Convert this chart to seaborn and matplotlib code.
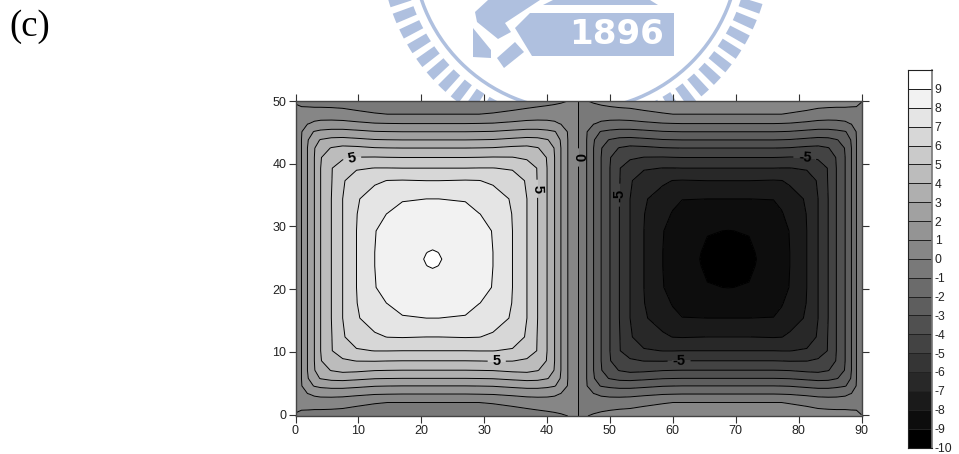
import numpy as np
import pandas as pd
import matplotlib
matplotlib.use("Agg")
import matplotlib.pyplot as plt
from matplotlib.colors import ListedColormap
from matplotlib.patches import Polygon, Wedge
import seaborn as sns

# contour crossings (outer edge -> cell centre)
left_x_flank_a = [0, 0.95, 1.9, 3, 4, 5.7, 7.5, 9.7, 12.6, 14.6, 17, 20.8, 21.8]
left_x_flank_b = [44.95, 43.3, 42.2, 41.2, 40, 38.5, 36.8, 34.5, 31.4, 29.2, 27, 22.8]
right_x_flank_a = [45.05, 46.3, 47.4, 48.6, 50, 51.5, 53.2, 55.4, 58.4, 60, 61.5, 65.5, 68.8]
right_x_flank_b = [90, 89.2, 88.4, 87.4, 86, 84.7, 83.1, 81.3, 78.6, 77.3, 76, 72.1]
y_bottom = [-0.2, 1.95, 3.3, 4.6, 5.8, 7.1, 8.6, 10.2, 12.4, 15.4, 17.8, 20.3, 23.7, 24.8]
y_top = [50, 47.9, 46.4, 45.1, 43.8, 42.5, 41, 39.3, 37.3, 34.4, 32, 29.3, 25.9]

# field values at those crossings, one corner of each cell
left_corner = [
    [-0.03, -0.3, -0.4, -0.5, -0.5, -0.5, -0.5, -0.5, -0.5, -0.5, -0.5, -0.5, -0.5],
    [0.1, 0.4, 0.5, 0.55, 0.55, 0.5, 0.4, 0.2, 0.05, 0, 0, 0, 0],
    [0.1, 0.8, 0.95, 1.15, 1.25, 1.3, 1.3, 1.2, 1.05, 1.02, 1, 1, 1],
    [0.1, 0.95, 1.7, 2.05, 2.2, 2.3, 2.3, 2.2, 2.05, 2.02, 2, 2, 2],
    [0.1, 1, 1.9, 2.75, 3.05, 3.25, 3.3, 3.2, 3.05, 3.02, 3, 3, 3],
    [0.1, 1, 2, 2.95, 3.6, 4.05, 4.25, 4.2, 4.05, 4.02, 4, 4, 4],
    [0.1, 1, 2, 3, 3.95, 4.6, 4.85, 5.03, 5.05, 5.02, 5, 5, 5],
    [0.1, 1, 2, 3, 4, 4.95, 5.55, 5.9, 6.02, 6.02, 6, 6, 6],
    [0.1, 1, 2, 3, 4, 4.95, 5.9, 6.5, 6.85, 7.02, 7.05, 7, 7],
    [0.1, 1, 2, 3, 4, 5, 6, 6.9, 7.45, 7.55, 7.93, 8, 8],
    [0.1, 1, 2, 3, 4, 5, 6, 6.97, 7.75, 8.02, 8.3, 8.35, 8.35],
    [0.1, 1, 2, 3, 4, 5, 6, 7, 7.97, 8.25, 8.5, 8.6, 8.6],
    [0.1, 1, 2, 3, 4, 5, 6, 7, 8, 8.3, 8.6, 8.99, 9.05],
    [0.1, 1, 2, 3, 4, 5, 6, 7, 8, 8.3, 8.6, 9.05, 9.3],
]
right_corner = [
    [-0.1, -0.02, 0.1, 0.25, 0.4, 0.5, 0.5, 0.5, 0.5, 0.5, 0.5, 0.5, 0.5],
    [-0.1, -0.4, -0.5, -0.55, -0.55, -0.5, -0.4, -0.2, -0.05, 0, 0, 0, 0],
    [-0.1, -0.8, -0.95, -1.15, -1.25, -1.3, -1.3, -1.2, -1.05, -1.02, -1, -1, -1],
    [-0.1, -0.95, -1.7, -2.05, -2.2, -2.3, -2.3, -2.2, -2.05, -2.02, -2, -2, -2],
    [-0.1, -1, -1.9, -2.75, -3.05, -3.25, -3.3, -3.2, -3.05, -3.02, -3, -3, -3],
    [-0.1, -1, -2, -2.95, -3.6, -4.05, -4.25, -4.2, -4.05, -4.02, -4, -4, -4],
    [-0.1, -1, -2, -3, -3.95, -4.6, -4.85, -5.03, -5.05, -5.02, -5, -5, -5],
    [-0.1, -1, -2, -3, -4, -4.95, -5.55, -5.9, -6.02, -6.02, -6, -6, -6],
    [-0.1, -1, -2, -3, -4, -4.95, -5.9, -6.5, -6.85, -7.02, -7.05, -7, -7],
    [-0.1, -1, -2, -3, -4, -5, -6, -6.9, -7.4, -7.85, -7.98, -8, -8],
    [-0.1, -1, -2, -3, -4, -5, -6, -6.97, -7.8, -8.05, -8.3, -8.4, -8.45],
    [-0.1, -1, -2, -3, -4, -5, -6, -7, -7.97, -8.25, -8.5, -8.95, -9.02],
    [-0.1, -1, -2, -3, -4, -5, -6, -7, -8, -8.25, -8.55, -9.15, -9.3],
    [-0.1, -1, -2, -3, -4, -5, -6, -7, -8, -8.25, -8.55, -9.2, -9.6],
]
# top and bottom edge values on the far flank of each cell
left_far_edge = [0.1, 0, -0.1, -0.2, -0.3, -0.4, -0.5, -0.5, -0.5, -0.5, -0.5, -0.5, -0.5]
right_far_edge = [0.01, 0.3, 0.4, 0.5, 0.5, 0.5, 0.5, 0.5, 0.5, 0.5, 0.5, 0.5, 0.5]

levels = list(range(-10, 11))
labelled_levels = [-5, 0, 5]
legend_labels = ["9", "8", "7", "6", "5", "4", "3", "2", "1", "0",
                 "-1", "-2", "-3", "-4", "-5", "-6", "-7", "-8", "-9", "-10"]
label_spots = [(9, 41), (38, 36), (32, 8.4), (45, 41), (81, 41.5), (51.5, 35), (61, 8.3)]


def unfold(corner, far_edge):
    # the corner table is read once and mirrored to the full cell
    half = np.array(corner, dtype=float)
    far = half.copy()
    far[0] = far_edge
    near_side = np.vstack([half, half[-2::-1]])
    far_side = np.vstack([far, far[-2::-1]])
    return np.hstack([near_side, far_side[:, -2::-1]])


x_nodes = np.array(left_x_flank_a + left_x_flank_b[::-1] + right_x_flank_a + right_x_flank_b[::-1])
y_nodes = np.array(y_bottom + y_top[::-1])
z = np.hstack([unfold(left_corner, left_far_edge), unfold(right_corner, right_far_edge)])

sns.set_theme(style="ticks")
plt.rcParams["font.family"] = ["Liberation Sans", "DejaVu Sans"]

W, H = 959, 454
fig = plt.figure(figsize=(W / 100, H / 100), dpi=100)

# watermark behind everything, in pixel coordinates
bg = fig.add_axes([0, 0, 1, 1], zorder=-1)
bg.set_xlim(0, W)
bg.set_ylim(H, 0)
bg.axis("off")
logo = "#afc0df"
cx, cy = 576, -53
bg.add_patch(Wedge((cx, cy), 165, 0, 360, width=3.5, color=logo, lw=0))
for a in np.arange(2, 180, 5):
    bg.add_patch(Wedge((cx, cy), 195, a, a + 3, width=22, color=logo, lw=0))
shapes = [
    [(530, 13), (674, 13), (674, 56), (532, 56), (515, 28)],
    [(543, 5), (658, 5), (650, 0), (553, 0)],
    [(488, 0), (475, 12), (477, 22), (498, 39), (511, 32), (505, 23), (540, 0)],
    [(473, 28), (491, 50), (491, 58), (473, 57)],
    [(497, 58), (515, 42), (524, 52), (504, 68)],
]
for pts in shapes:
    bg.add_patch(Polygon(pts, closed=True, color=logo, lw=0))
bg.text(617, 34, "1896", color="white", fontsize=24.5, fontweight="bold",
        family="DejaVu Sans", ha="center", va="center")
bg.text(9, 27, "(c)", fontsize=26.5, family="Liberation Serif", color="black",
        ha="left", va="center")

# main field
ax = fig.add_axes([295.5 / W, (H - 416) / H, 566 / W, 315 / H])
greys = ListedColormap(plt.get_cmap("gray")(np.linspace(0, 1, 20)))
ax.contourf(x_nodes, y_nodes, z, levels=levels, cmap=greys, vmin=-10, vmax=10)
plain_levels = [v for v in levels[1:-1] if v not in labelled_levels]
ax.contour(x_nodes, y_nodes, z, levels=plain_levels, colors="black", linewidths=0.7,
           linestyles="solid")
cs = ax.contour(x_nodes, y_nodes, z, levels=labelled_levels, colors="black", linewidths=0.7,
                linestyles="solid")
ax.clabel(cs, fmt="%d", fontsize=10.5, manual=label_spots, inline=True)
for t in cs.labelTexts:
    t.set_fontweight("bold")
    if t.get_text() == "-5" and abs(t.get_rotation() % 180 - 90) < 30:
        t.set_rotation(90)
ax.set_xlim(0, 90)
ax.set_ylim(-0.2, 50)
ax.set_xticks(range(0, 91, 10))
ax.set_yticks(range(0, 51, 10))
ax.tick_params(top=True, right=True, direction="out", length=5, width=0.8,
               color="#333333", labelsize=9, pad=1.5, labelcolor="#222222")
for s in ax.spines.values():
    s.set_color("#444444")
    s.set_linewidth(1)
    s.set_visible(True)

# legend bar as a one column heatmap
band_mids = pd.DataFrame({"band": np.array(levels[:-1])[::-1] + 0.5})
cax = fig.add_axes([908 / W, (H - 447.5) / H, 24 / W, 377.5 / H])
sns.heatmap(band_mids, ax=cax, cmap=greys, vmin=-10, vmax=10, cbar=False,
            linewidths=0.6, linecolor="#222222", xticklabels=False)
cax.set_yticks(range(1, 21))
cax.set_yticklabels(legend_labels, rotation=0)
cax.yaxis.tick_right()
cax.tick_params(right=False, left=False, length=0, labelsize=8.7, pad=2, labelcolor="#222222")
cax.set_ylabel("")
for name, s in cax.spines.items():
    s.set_visible(True)
    s.set_color("#777777" if name == "right" else "#222222")
    s.set_linewidth(1.2 if name == "right" else 0.8)

fig.savefig("out.png", dpi=100)
